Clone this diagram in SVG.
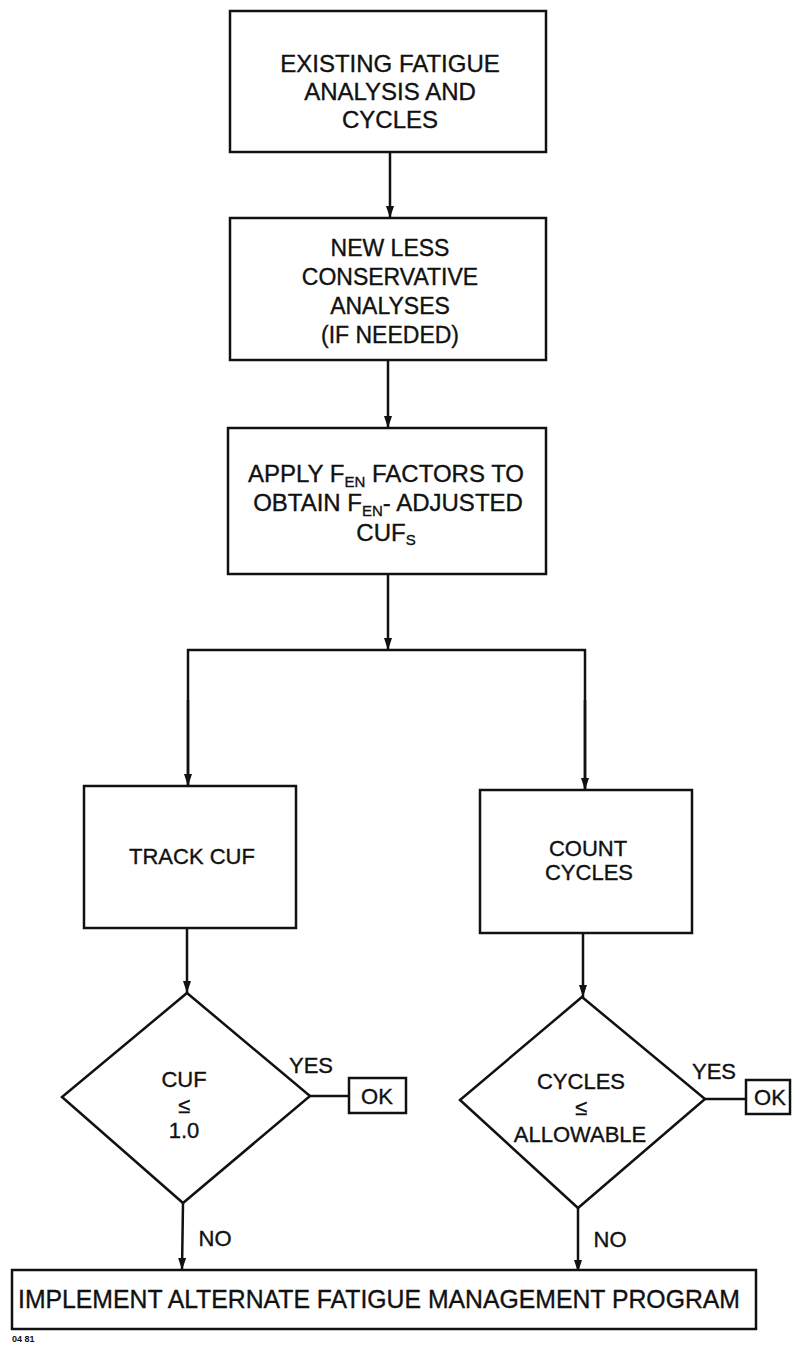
<svg xmlns="http://www.w3.org/2000/svg" width="793" height="1345" viewBox="0 0 793 1345">
<style>
.box{fill:#fff;stroke:#111;stroke-width:2.5}
.ln{fill:none;stroke:#111;stroke-width:2.5}
text{font-family:"Liberation Sans",Arial,sans-serif;fill:#111;text-anchor:middle;stroke:#111;stroke-width:0.35}
.t24{font-size:24px}
.t23{font-size:23px}
.t22{font-size:22px}
.sub{font-size:15px}
</style>
<defs>
<marker id="arr" viewBox="0 0 12 8" refX="12" refY="4" markerWidth="12" markerHeight="8" markerUnits="userSpaceOnUse" orient="auto">
<path d="M0,0 L12,4 L0,8 z" fill="#111"/>
</marker>
</defs>
<rect width="793" height="1345" fill="#fff"/>
<g id="connectors">
<line class="ln" x1="390" y1="152" x2="390" y2="218" marker-end="url(#arr)"/>
<line class="ln" x1="388" y1="360" x2="388" y2="428" marker-end="url(#arr)"/>
<line class="ln" x1="388" y1="574" x2="388" y2="650" marker-end="url(#arr)"/>
<polyline class="ln" points="188,786 188,650 585,650 585,790"/>
<line class="ln" x1="188" y1="700" x2="188" y2="786" marker-end="url(#arr)"/>
<line class="ln" x1="585" y1="700" x2="585" y2="790" marker-end="url(#arr)"/>
<line class="ln" x1="187" y1="928" x2="187" y2="993" marker-end="url(#arr)"/>
<line class="ln" x1="583" y1="933" x2="583" y2="997" marker-end="url(#arr)"/>
<line class="ln" x1="183" y1="1203" x2="182" y2="1270" marker-end="url(#arr)"/>
<line class="ln" x1="578" y1="1208" x2="578" y2="1272" marker-end="url(#arr)"/>
<line class="ln" x1="310" y1="1096" x2="349" y2="1096"/>
<line class="ln" x1="705" y1="1099" x2="746" y2="1099"/>
<text class="t22" x="311" y="1073">YES</text>
<text class="t22" x="714" y="1079">YES</text>
<text class="t22" x="215" y="1246">NO</text>
<text class="t22" x="610" y="1247">NO</text>
</g>
<g id="n1">
<rect class="box" x="230" y="11" width="316" height="141"/>
<text class="t24" x="390" y="72">EXISTING FATIGUE</text>
<text class="t24" x="390" y="100">ANALYSIS AND</text>
<text class="t24" x="390" y="128">CYCLES</text>
</g>
<g id="n2">
<rect class="box" x="230" y="218" width="316" height="142"/>
<text class="t23" x="390" y="256">NEW LESS</text>
<text class="t23" x="390" y="285">CONSERVATIVE</text>
<text class="t23" x="390" y="314">ANALYSES</text>
<text class="t23" x="390" y="343">(IF NEEDED)</text>
</g>
<g id="n3">
<rect class="box" x="228" y="428" width="318" height="146"/>
<text class="t24" x="386" y="482">APPLY F<tspan class="sub" dy="5">EN</tspan><tspan dy="-5"> FACTORS TO</tspan></text>
<text class="t24" x="388" y="511">OBTAIN F<tspan class="sub" dy="5">EN</tspan><tspan dy="-5">- ADJUSTED</tspan></text>
<text class="t24" x="386" y="541">CUF<tspan class="sub" dy="4">S</tspan></text>
</g>
<g id="n4">
<rect class="box" x="84" y="786" width="212" height="142"/>
<text class="t22" x="192" y="864">TRACK CUF</text>
</g>
<g id="n5">
<rect class="box" x="480" y="790" width="212" height="143"/>
<text class="t22" x="588" y="856">COUNT</text>
<text class="t22" x="589" y="880">CYCLES</text>
</g>
<g id="d1">
<polygon class="box" points="187,993 310,1096 183,1203 62,1097"/>
<text class="t22" x="184" y="1087">CUF</text>
<text class="t22" x="184" y="1113">≤</text>
<text class="t22" x="184" y="1138">1.0</text>
</g>
<g id="d2">
<polygon class="box" points="582,997 705,1099 578,1208 460,1100"/>
<text class="t22" x="581" y="1089">CYCLES</text>
<text class="t22" x="581" y="1115">≤</text>
<text class="t22" x="580" y="1142">ALLOWABLE</text>
</g>
<g id="ok1">
<rect class="box" x="349" y="1078" width="57" height="35"/>
<text class="t22" x="377" y="1104">OK</text>
</g>
<g id="ok2">
<rect class="box" x="746" y="1080" width="44" height="34"/>
<text class="t22" x="770" y="1105">OK</text>
</g>
<g id="n6">
<rect class="box" x="12" y="1270" width="744" height="59"/>
<text x="379" y="1308" style="font-size:25px" textLength="722" lengthAdjust="spacingAndGlyphs">IMPLEMENT ALTERNATE FATIGUE MANAGEMENT PROGRAM</text>
</g>
<text x="12" y="1342" style="font-size:9px;font-weight:bold;text-anchor:start;stroke:none">04 81</text>
</svg>
